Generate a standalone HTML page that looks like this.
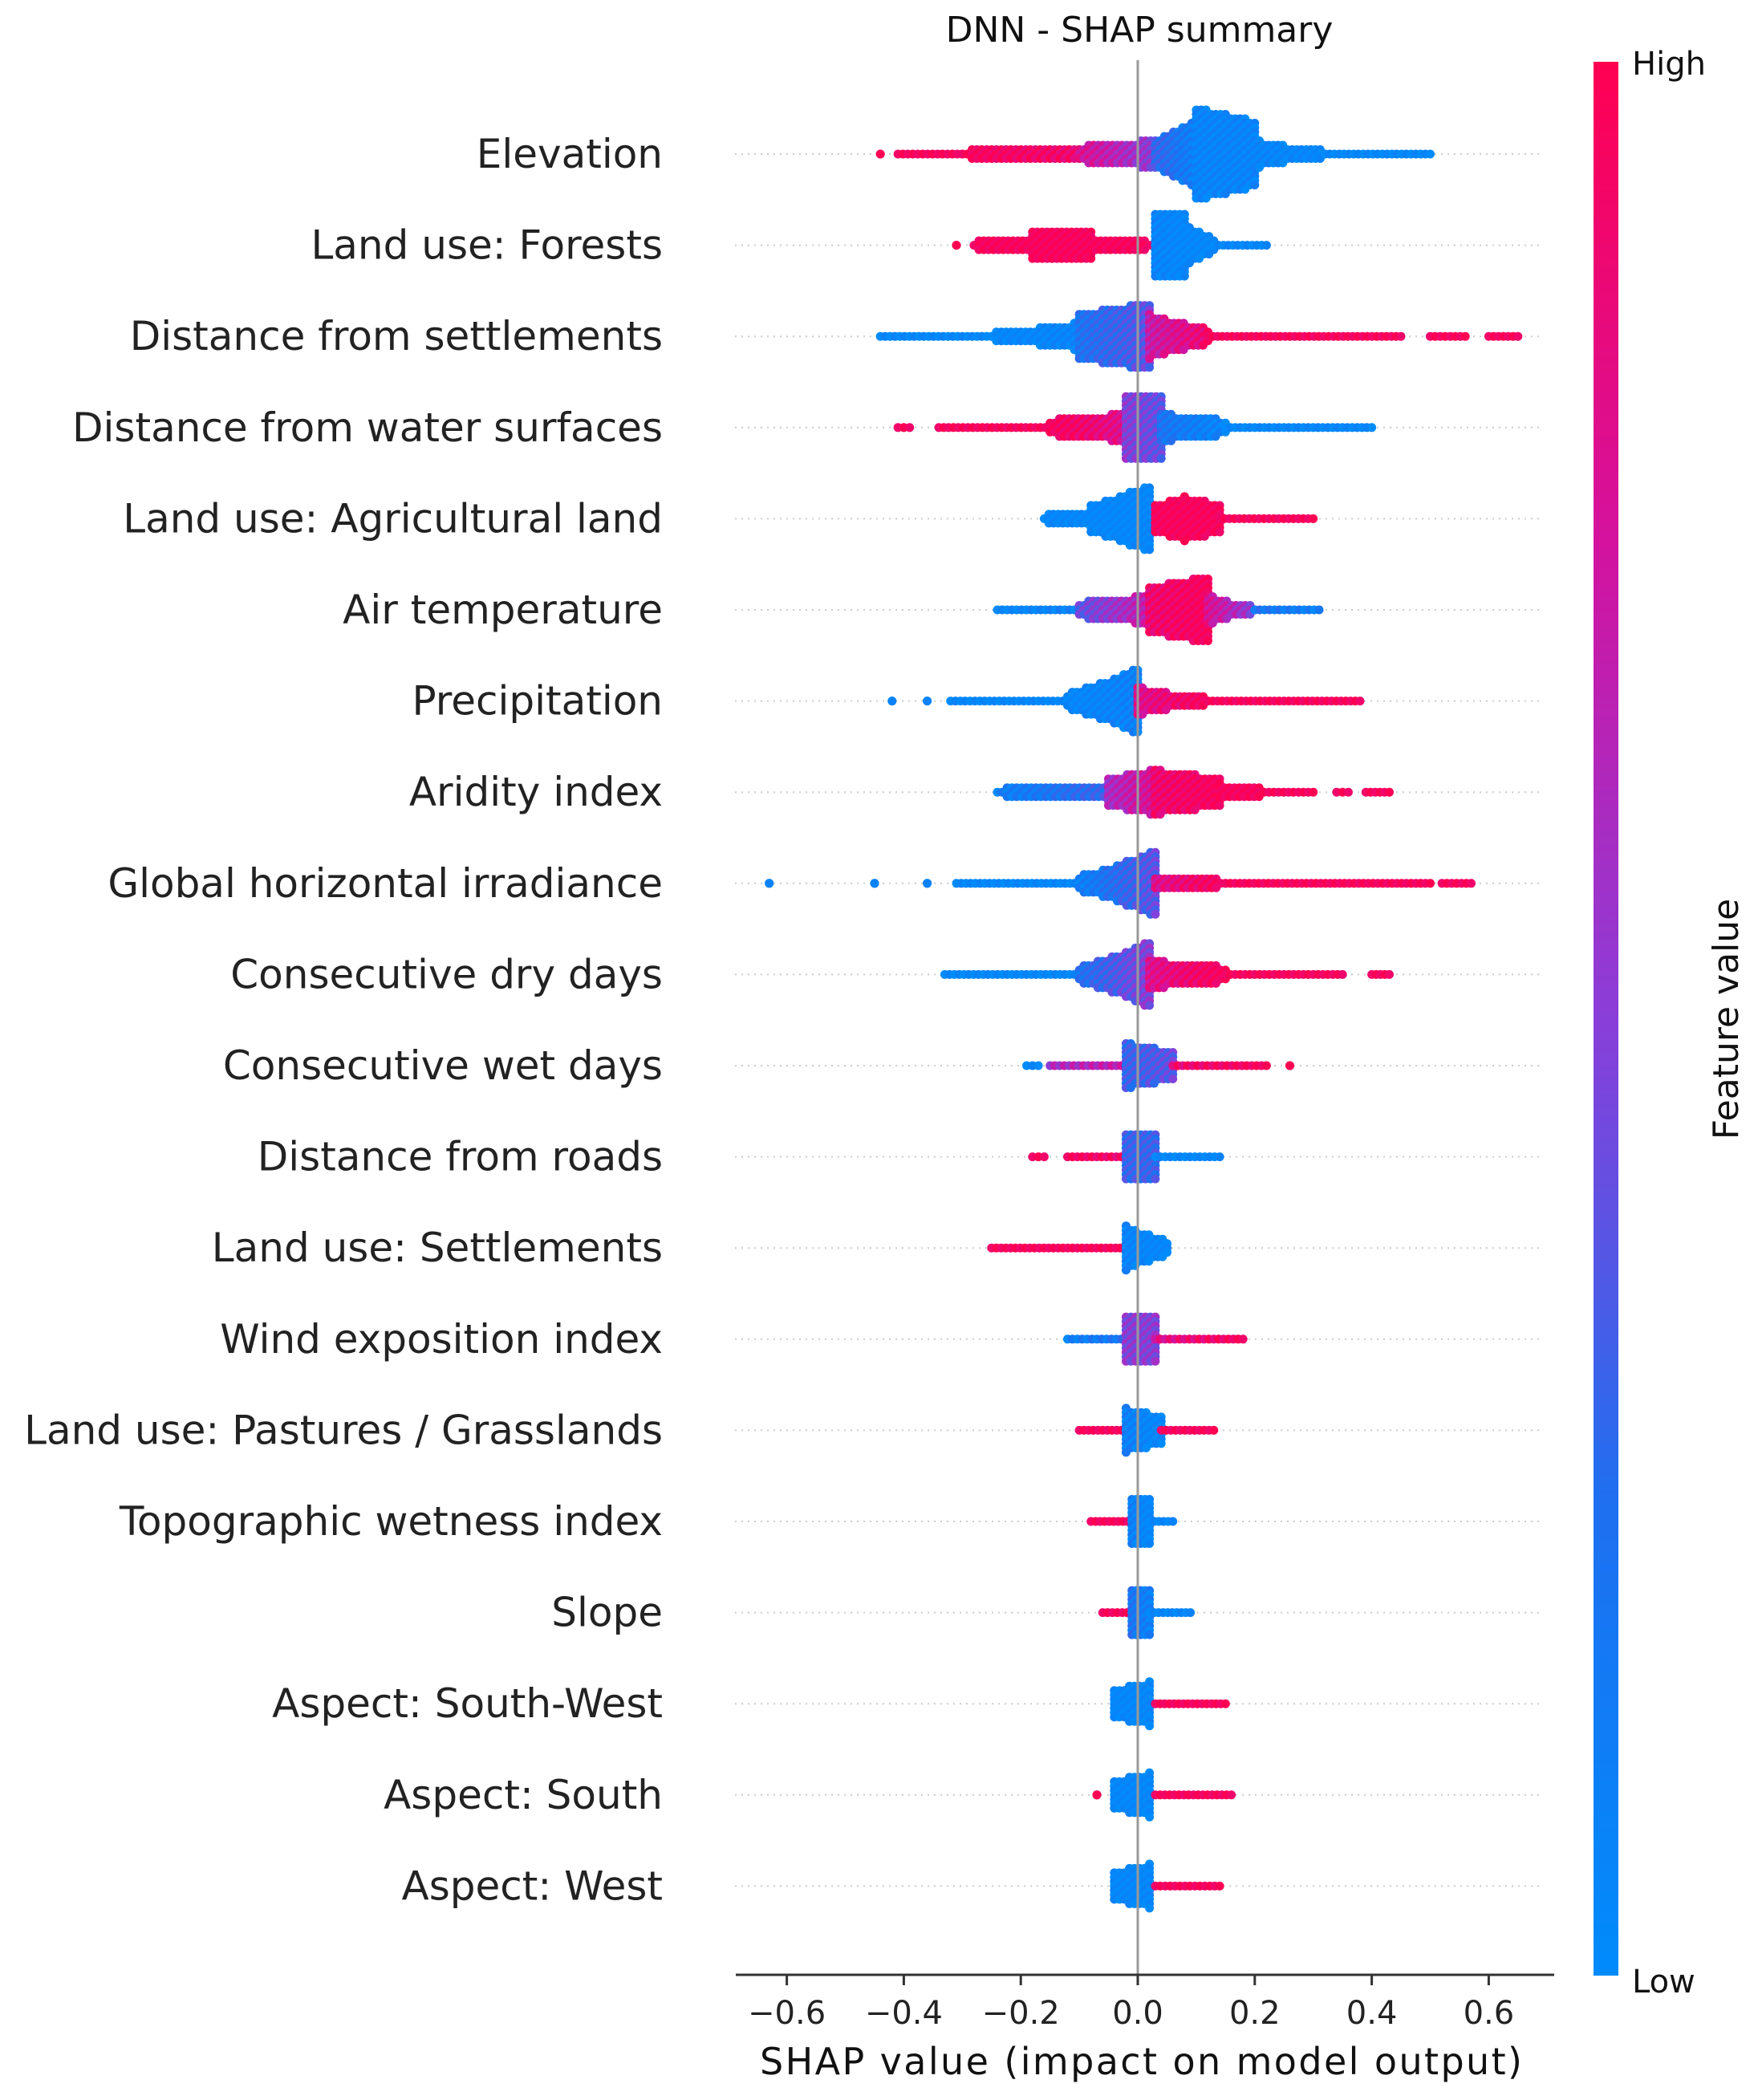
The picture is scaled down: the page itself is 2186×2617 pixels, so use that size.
<!DOCTYPE html>
<html><head><meta charset="utf-8"><style>
html,body{margin:0;padding:0;background:#fff;}
svg{display:block;font-family:"DejaVu Sans","Liberation Sans",sans-serif;}
</style></head><body>
<svg id="chart" width="2186" height="2617" viewBox="0 0 2186 2617" xmlns="http://www.w3.org/2000/svg">
<defs><linearGradient id="cbar" x1="0" y1="1" x2="0" y2="0">
<stop offset="0" stop-color="#008bfb"/><stop offset="0.25" stop-color="#1f6ff0"/><stop offset="0.5" stop-color="#8a3ed9"/><stop offset="0.75" stop-color="#d4129e"/><stop offset="1" stop-color="#ff0052"/></linearGradient></defs>
<text x="1420" y="52" font-size="44" text-anchor="middle" fill="#111">DNN - SHAP summary</text>
<g id="rows"></g>
<g id="dots"></g>
<line x1="1418" y1="75" x2="1418" y2="2461" stroke="#999" stroke-width="3"/>
<line x1="917" y1="2461" x2="1937" y2="2461" stroke="#333" stroke-width="3"/>
<g id="xticks"></g>
<text x="1422" y="2585" font-size="46" text-anchor="middle" fill="#111" textLength="950">SHAP value (impact on model output)</text>
<rect x="1986" y="77" width="31" height="2385" fill="url(#cbar)"/>
<text x="2034" y="93" font-size="40" fill="#111">High</text>
<text x="2034" y="2483" font-size="40" fill="#111">Low</text>
<text transform="translate(2166,1270) rotate(-90)" font-size="44" text-anchor="middle" fill="#111">Feature value</text>
</svg>
<script>
const features = ["Elevation","Land use: Forests","Distance from settlements","Distance from water surfaces","Land use: Agricultural land","Air temperature","Precipitation","Aridity index","Global horizontal irradiance","Consecutive dry days","Consecutive wet days","Distance from roads","Land use: Settlements","Wind exposition index","Land use: Pastures / Grasslands","Topographic wetness index","Slope","Aspect: South-West","Aspect: South","Aspect: West"];
// segments: [shapStart, shapEnd, densityStart, densityEnd, colorStart, colorEnd] (density = relative swarm thickness, color 0=low 1=high)
const segElevation = [[-0.44,-0.44,0,0,1,1],[-0.41,-0.30,1,1,1,1],[-0.30,-0.10,1,2,1,0.9],[-0.10,0.03,2,3,0.8,0.5],[0.03,0.10,3,5,0.3,0.1],[0.10,0.20,6,5,0.05,0.05],[0.20,0.32,3,1,0.05,0],[0.32,0.50,1,0,0,0]];
const segForests = [[-0.31,-0.31,0,0,1,1],[-0.28,-0.18,1,2,1,1],[-0.18,-0.08,3,3,1,1],[-0.08,0.02,2,1,1,1],[0.03,0.08,5,5,0.05,0],[0.08,0.13,4,2,0,0],[0.13,0.22,1,0,0,0]];
const segSettle = [[-0.44,-0.25,0,1,0,0],[-0.25,-0.10,1,3,0,0.05],[-0.10,0.02,4,5,0.2,0.4],[0.02,0.12,4,2,0.7,0.9],[0.12,0.45,1,0,1,1],[0.50,0.56,0,0,1,1],[0.60,0.65,0,0,1,1]];
const segWater = [[-0.41,-0.39,0,0,1,1],[-0.34,-0.15,1,1,1,1],[-0.15,-0.02,2,3,1,0.8],[-0.02,0.04,5,5,0.5,0.4],[0.04,0.15,3,2,0.2,0.05],[0.15,0.40,1,0,0,0]];
const segAgri = [[-0.16,-0.08,1,2,0,0],[-0.08,0.02,3,5,0,0],[0.03,0.08,3,4,1,1],[0.08,0.14,4,3,1,1],[0.14,0.30,1,0,1,1]];
const segAirT = [[-0.24,-0.10,0,1,0,0.1],[-0.10,0.02,2,3,0.4,0.7],[0.02,0.12,4,5,0.9,1],[0.12,0.20,3,1,0.8,0.5],[0.20,0.31,1,0,0.2,0.1]];
const segPrecip = [[-0.42,-0.42,0,0,0,0],[-0.36,-0.36,0,0,0,0],[-0.32,-0.12,0,1,0,0],[-0.12,0.0,2,5,0,0.1],[0.0,0.12,3,1,0.8,1],[0.12,0.38,1,0,1,1]];
const segArid = [[-0.24,-0.05,1,2,0.1,0.3],[-0.05,0.03,3,4,0.6,0.8],[0.03,0.14,4,3,0.9,1],[0.14,0.30,2,0,1,1],[0.34,0.36,0,0,1,1],[0.39,0.43,0,0,1,1]];
const segGHI = [[-0.63,-0.63,0,0,0,0],[-0.45,-0.45,0,0,0,0],[-0.36,-0.36,0,0,0,0],[-0.31,-0.10,0,1,0,0],[-0.10,0.03,2,5,0.1,0.4],[0.03,0.15,2,1,0.8,1],[0.15,0.50,1,0,1,1],[0.52,0.57,0,0,1,1]];
const segDry = [[-0.33,-0.10,1,1,0,0],[-0.10,0.02,2,5,0.2,0.5],[0.02,0.15,3,2,0.8,1],[0.15,0.35,1,0,1,1],[0.40,0.43,0,0,1,1]];
const segWet = [[-0.19,-0.17,0,0,0,0],[-0.15,-0.02,1,1,0.6,0.7],[-0.02,0.06,4,3,0.3,0.4],[0.06,0.22,1,0,0.9,1],[0.26,0.26,0,0,1,1]];
const segRoads = [[-0.18,-0.16,0,0,1,1],[-0.12,-0.02,1,1,1,0.9],[-0.02,0.03,4,4,0.3,0.3],[0.03,0.14,1,0,0,0]];
const segLUSet = [[-0.25,-0.03,1,1,1,1],[-0.02,0.05,4,2,0.05,0]];
const segWind = [[-0.12,-0.02,1,1,0.1,0.2],[-0.02,0.03,4,4,0.5,0.5],[0.03,0.18,1,0,0.8,1]];
const segPast = [[-0.10,-0.02,1,1,1,1],[-0.02,0.04,4,3,0.1,0],[0.04,0.13,1,0,1,1]];
const segTopo = [[-0.08,-0.01,1,1,1,1],[-0.01,0.02,4,4,0.1,0],[0.02,0.06,1,0,0,0]];
const segSlope = [[-0.06,-0.01,1,1,1,1],[-0.01,0.02,4,4,0.2,0.1],[0.02,0.09,1,0,0,0]];
const segSW = [[-0.04,0.02,3,4,0,0],[0.03,0.15,1,0,1,1]];
const segSouth = [[-0.07,-0.07,0,0,1,1],[-0.04,0.02,3,4,0,0],[0.03,0.16,1,0,1,1]];
const segWest = [[-0.04,0.02,3,4,0,0],[0.03,0.14,1,0,1,1]];
const featureSegments = [segElevation,segForests,segSettle,segWater,segAgri,segAirT,segPrecip,segArid,segGHI,segDry,segWet,segRoads,segLUSet,segWind,segPast,segTopo,segSlope,segSW,segSouth,segWest];
const xTicks = [-0.6,-0.4,-0.2,0.0,0.2,0.4,0.6];
const xTickLabels = ["\u22120.6","\u22120.4","\u22120.2","0.0","0.2","0.4","0.6"];

const NS="http://www.w3.org/2000/svg";
const xScale = v => 1418 + v*729;
const yRow = i => 192 + i*113.6;
const stops=[[0,[0,139,251]],[0.25,[31,111,240]],[0.5,[138,62,217]],[0.75,[212,18,158]],[1,[255,0,82]]];
function colorOf(c){
  c=Math.max(0,Math.min(1,c));
  for(let k=0;k<stops.length-1;k++){const a=stops[k],b=stops[k+1];
    if(c<=b[0]){const t=(c-a[0])/(b[0]-a[0]);
      return "rgb("+a[1].map((v,j)=>Math.round(v+(b[1][j]-v)*t)).join(",")+")";}}
  return "rgb(255,0,82)";
}
const rowsG=document.getElementById('rows'), dotsG=document.getElementById('dots'), tG=document.getElementById('xticks');
features.forEach((f,i)=>{
  const y=yRow(i);
  const gl=document.createElementNS(NS,'line');
  
  
  gl.setAttribute('x1',916);gl.setAttribute('x2',1918);gl.setAttribute('y1',y);gl.setAttribute('y2',y);
  gl.setAttribute('stroke','#ccc');gl.setAttribute('stroke-width',2);gl.setAttribute('stroke-dasharray','2 6');
  rowsG.appendChild(gl);
  const t=document.createElementNS(NS,'text');
  
  
  t.setAttribute('x',826);t.setAttribute('y',y+17);t.setAttribute('font-size',50);
  t.setAttribute('text-anchor','end');t.setAttribute('fill','#222');
  t.textContent=f;rowsG.appendChild(t);
  const g=document.createElementNS(NS,'g');
  
  
  featureSegments[i].forEach(s=>{
    const [v0,v1,d0,d1,c0,c1]=s;
    const px0=xScale(v0),px1=xScale(v1);
    const n=Math.max(1,Math.round((px1-px0)/6));
    for(let k=0;k<=n;k++){
      const t2=n?k/n:0;
      const x=px0+(px1-px0)*t2;
      const d=d0+(d1-d0)*t2;
      const layers=Math.round(d*d*0.25+d*0.2);
      for(let L=-layers;L<=layers;L++){
        const c=c0+(c1-c0)*t2+((L+k)%2?0.08:-0.08);
        const ci=document.createElementNS(NS,'circle');
        ci.setAttribute('cx',x.toFixed(1));ci.setAttribute('cy',(y+L*5.5).toFixed(1));
        ci.setAttribute('r',5.5);ci.setAttribute('fill',colorOf(c));
        g.appendChild(ci);
      }
    }
  });
  dotsG.appendChild(g);
});
xTicks.forEach((v,i)=>{
  const x=xScale(v);
  const l=document.createElementNS(NS,'line');
  
  
  l.setAttribute('x1',x);l.setAttribute('x2',x);l.setAttribute('y1',2461);l.setAttribute('y2',2474);
  l.setAttribute('stroke','#333');l.setAttribute('stroke-width',3);tG.appendChild(l);
  const t=document.createElementNS(NS,'text');
  
  
  t.setAttribute('x',x);t.setAttribute('y',2522);t.setAttribute('font-size',40);
  t.setAttribute('text-anchor','middle');t.setAttribute('fill','#222');
  t.textContent=xTickLabels[i];tG.appendChild(t);
});
</script>
</body></html>
